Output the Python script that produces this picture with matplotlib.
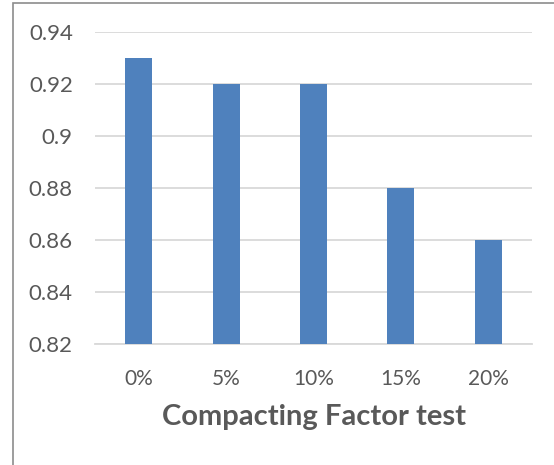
import matplotlib
matplotlib.use('Agg')
import matplotlib.pyplot as plt
from matplotlib.patches import Rectangle

# chart data
categories = ['0%', '5%', '10%', '15%', '20%']
values = [0.93, 0.92, 0.92, 0.88, 0.86]
y_ticks = [0.82, 0.84, 0.86, 0.88, 0.9, 0.92, 0.94]
y_tick_labels = ['0.82', '0.84', '0.86', '0.88', '0.9', '0.92', '0.94']
x_title = 'Compacting Factor test'

plt.rcParams['font.family'] = ['Lato', 'DejaVu Sans']

W, H = 554, 465
fig = plt.figure(figsize=(W / 100, H / 100), dpi=100)

# outer chart border (right and bottom run off the image)
fig.patches.append(Rectangle((13 / W, -0.1), 1.2, 1.1 - 3 / H,
                             transform=fig.transFigure, fill=False,
                             edgecolor='#8c8c8c', linewidth=1.2))

ax = fig.add_axes([95 / W, 1 - 344 / H, (532 - 95) / W, (344 - 32) / H])
x = range(len(categories))
ax.bar(x, values, width=0.31, color='#4F81BD', zorder=3)

ax.set_ylim(0.82, 0.94)
ax.set_xlim(-0.5, len(categories) - 0.5)
ax.set_yticks(y_ticks)
ax.set_yticklabels(y_tick_labels)
ax.set_xticks(list(x))
ax.set_xticklabels(categories)
ax.yaxis.grid(True, color='#d9d9d9', linewidth=1.3, zorder=0)

for s in ['top', 'right', 'left']:
    ax.spines[s].set_visible(False)
ax.spines['bottom'].set_color('#d9d9d9')
ax.spines['bottom'].set_linewidth(1.3)
ax.tick_params(axis='both', length=0, labelsize=15, colors='#595959')
ax.tick_params(axis='y', pad=16, labelsize=16)
ax.tick_params(axis='x', pad=18)

ax.set_xlabel(x_title, fontsize=21, fontweight='bold', color='#595959', labelpad=11)

fig.savefig('out.png', dpi=100)
